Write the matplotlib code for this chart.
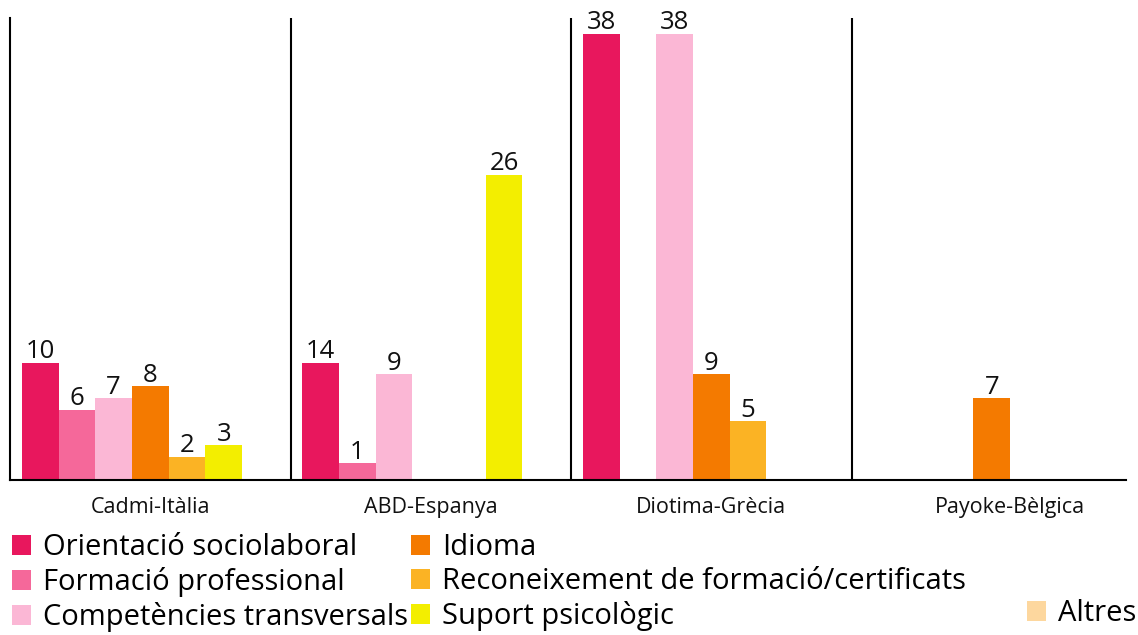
import numpy as np
import matplotlib
matplotlib.use('Agg')
import matplotlib.pyplot as plt

plt.rcParams['font.family'] = ['Open Sans', 'DejaVu Sans']

# groups (organisation - country) and categories
groups = ['Cadmi-Itàlia', 'ABD-Espanya', 'Diotima-Grècia', 'Payoke-Bèlgica']
categories = ['Orientació sociolaboral', 'Formació professional', 'Competències transversals',
              'Idioma', 'Reconeixement de formació/certificats', 'Suport psicològic', 'Altres']
colors = ['#E8175D', '#F5689A', '#FBB7D5', '#F47A00', '#FBB324', '#F3EE00', '#FDD79E']

# values shown as labels, one list per category (order = groups)
orientacio = [10, 14, 38, 0]
formacio = [6, 1, 0, 0]
competencies = [7, 9, 38, 0]
idioma = [8, 0, 9, 7]
reconeixement = [2, 0, 5, 0]
suport = [3, 26, 0, 0]
altres = [0, 0, 0, 0]

# the original draws a couple of bars off-scale; bar lengths as they appear
orientacio_bar = [10, 10, 38, 0]
formacio_bar = [6, 1.45, 0, 0]

labels_vals = [orientacio, formacio, competencies, idioma, reconeixement, suport, altres]
bar_vals = [orientacio_bar, formacio_bar, competencies, idioma, reconeixement, suport, altres]

fig = plt.figure(figsize=(11.38, 6.35), dpi=100)
ax = fig.add_axes([10/1138, 1 - 480/635, 1116/1138, 462/635])

x = np.arange(len(groups))
width = 0.1308
handles = []
for k, (cat, col) in enumerate(zip(categories, colors)):
    pos = x + 0.5 + (k - 3) * width
    b = ax.bar(pos, bar_vals[k], width=width, color=col, label=cat, zorder=2)
    handles.append(b)
    for p, h, v in zip(pos, bar_vals[k], labels_vals[k]):
        if v > 0:
            ax.annotate(str(v), (p, h), xytext=(0, 3), textcoords='offset points',
                        ha='center', va='baseline', fontsize=18.5, color='#111111')

for xi in x[1:]:
    ax.axvline(xi, color='black', lw=1.5, zorder=3)

ax.set_xlim(0, 1116/280.5)
ax.set_ylim(0, 462/11.75)
for s in ['top', 'right']:
    ax.spines[s].set_visible(False)
ax.spines['left'].set_linewidth(1.5)
ax.spines['bottom'].set_linewidth(1.5)
ax.set_yticks([])
tick_pos = x + 0.5
tick_pos[-1] += 0.066
ax.set_xticks(tick_pos, groups, fontsize=15.5, color='#111111')
ax.tick_params(axis='x', length=0, pad=12)

leg_kw = dict(frameon=False, fontsize=21, handlelength=0.66, handleheight=0.66,
              handletextpad=0.4, borderpad=0, borderaxespad=0)
fig.legend(handles=handles[:6], labels=categories[:6], loc='upper left',
           bbox_to_anchor=(12/1138, 1 - 533/635), ncol=2,
           labelspacing=0.17, columnspacing=0.1, **leg_kw)
fig.legend(handles=handles[6:], labels=categories[6:], loc='upper right',
           bbox_to_anchor=(1136/1138, 1 - 599/635), **leg_kw)

fig.savefig('out.png', dpi=100)
